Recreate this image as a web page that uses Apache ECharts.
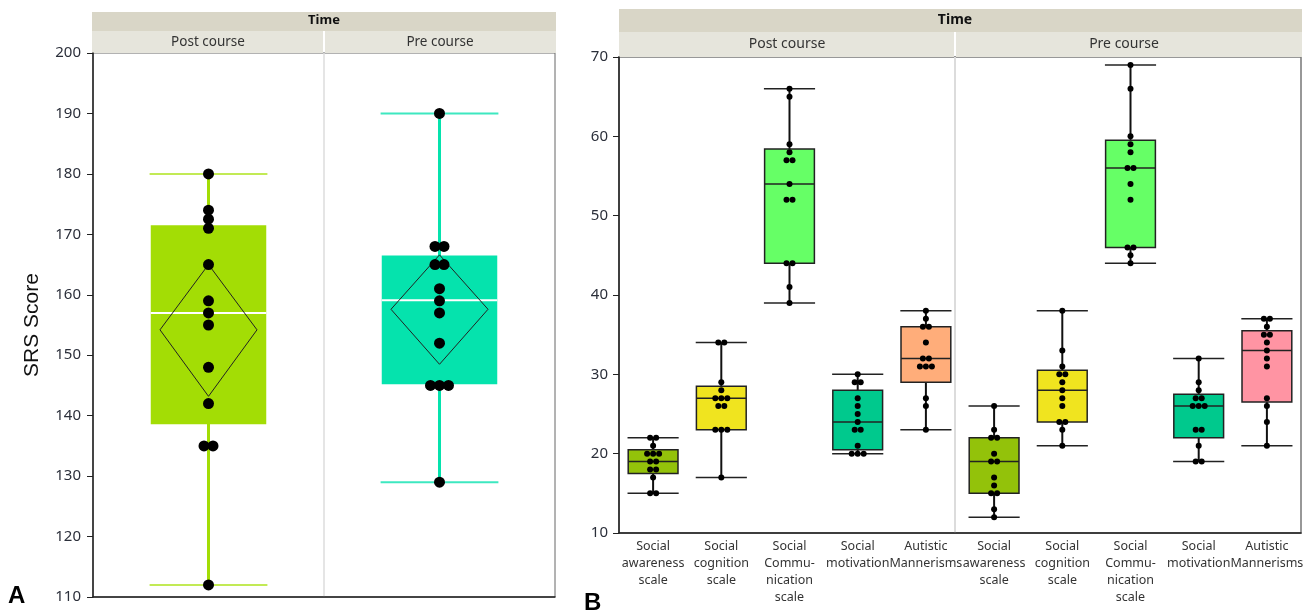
<!DOCTYPE html>
<html>
<head>
<meta charset="utf-8">
<script src="https://cdn.jsdelivr.net/npm/echarts@6/dist/echarts.min.js"></script>
<style>
  html, body { margin: 0; padding: 0; background: #fff; }
  #chart { width: 1313px; height: 613px; }
</style>
</head>
<body>
<div id="chart"></div>
<script>
// ---- panel A : total SRS score ----
var aCats = ['Post course', 'Pre course'];
var aPost = [180, 174, 172.5, 171, 165, 159, 157, 155, 148, 142, 135, 135, 112];
var aPre = [190, 168, 168, 165, 165, 161, 159, 157, 152, 145, 145, 145, 129];
// whisker low, q1, median, q3, whisker high
var aBox = [[112, 138.6, 157, 171.5, 180], [129, 145.2, 159.1, 166.5, 190]];
// mean, lower, upper (means diamond)
var aMean = [[154.2, 143.2, 165.0], [157.6, 148.5, 166.6]];
var aColors = ['#a3dd05', '#05e3ad'];
var aCapColors = ['#c2ea55', '#3de8c0'];

// ---- panel B : subscales ----
var bNames = ['Social\nawareness\nscale', 'Social\ncognition\nscale', 'Social\nCommu-\nnication\nscale', 'Social\nmotivation', 'Autistic\nMannerisms'];
var bPost = [
  [22, 22, 21, 20, 20, 20, 19, 19, 18, 18, 17, 15, 15],
  [34, 34, 29, 28, 27, 27, 27, 26, 26, 23, 23, 23, 17],
  [66, 65, 59, 58, 57, 57, 54, 52, 52, 44, 44, 41, 39],
  [30, 29, 29, 27, 26, 25, 24, 23, 23, 21, 20, 20, 20],
  [38, 37, 36, 36, 34, 32, 32, 31, 31, 31, 27, 26, 23]
];
var bPre = [
  [26, 23, 22, 22, 20, 19, 19, 17, 16, 15, 15, 13, 12],
  [38, 33, 31, 30, 30, 29, 28, 27, 26, 24, 24, 23, 21],
  [69, 66, 60, 59, 58, 56, 56, 54, 52, 46, 46, 45, 44],
  [32, 29, 28, 27, 27, 26, 26, 26, 23, 23, 21, 19, 19],
  [37, 37, 36, 35, 35, 34, 33, 32, 31, 27, 26, 24, 21]
];
var bBoxPost = [[15, 17.5, 19, 20.5, 22], [17, 23, 27, 28.5, 34], [39, 44, 54, 58.4, 66], [20, 20.5, 24, 28, 30], [23, 29, 32, 36, 38]];
var bBoxPre = [[12, 15, 19, 22, 26], [21, 24, 28, 30.5, 38], [44, 46, 56, 59.5, 69], [19, 22, 26, 27.5, 32], [21, 26.5, 33, 35.5, 37]];
var bColorsPost = ['#93c20a', '#f0e41f', '#66ff66', '#00c98d', '#ffad7a'];
var bColorsPre = ['#93c20a', '#f0e41f', '#66ff66', '#00c98d', '#ff94a3'];

var FONT = 'Noto Sans';

// dots with equal values are put side by side
function dotData(groups, spacing) {
  var out = [];
  groups.forEach(function (vals, ci) {
    var counts = {}, seen = {};
    vals.forEach(function (v) { counts[v] = (counts[v] || 0) + 1; });
    vals.forEach(function (v) {
      var k = seen[v] || 0;
      seen[v] = k + 1;
      var dx = (k - (counts[v] - 1) / 2) * spacing;
      out.push({ value: [ci, v], symbolOffset: [dx, 0] });
    });
  });
  return out;
}

function boxData(boxes, means) {
  return boxes.map(function (b, i) {
    var row = [i].concat(b);
    if (means) row = row.concat(means[i]);
    return row;
  });
}

function boxRender(cfg) {
  return function (params, api) {
    var i = api.value(0);
    var band = api.size([1, 0])[0];
    var cx = api.coord([i, 0])[0];
    var yLo = api.coord([i, api.value(1)])[1];
    var yQ1 = api.coord([i, api.value(2)])[1];
    var yMed = api.coord([i, api.value(3)])[1];
    var yQ3 = api.coord([i, api.value(4)])[1];
    var yHi = api.coord([i, api.value(5)])[1];
    var w = band * cfg.boxFrac;
    var cw = band * cfg.capFrac;
    var fill = cfg.colors[params.dataIndex];
    var capColor = cfg.capColors ? cfg.capColors[params.dataIndex] : cfg.stroke;
    var wColor = cfg.whiskerColor || fill;
    var kids = [
      { type: 'line', shape: { x1: cx, y1: yHi, x2: cx, y2: yLo }, style: { stroke: wColor, lineWidth: cfg.whiskerWidth } },
      { type: 'line', shape: { x1: cx - cw / 2, y1: yHi, x2: cx + cw / 2, y2: yHi }, style: { stroke: capColor, lineWidth: cfg.capWidth } },
      { type: 'line', shape: { x1: cx - cw / 2, y1: yLo, x2: cx + cw / 2, y2: yLo }, style: { stroke: capColor, lineWidth: cfg.capWidth } },
      { type: 'rect', shape: { x: cx - w / 2, y: yQ3, width: w, height: yQ1 - yQ3 },
        style: { fill: fill, stroke: cfg.boxStroke || null, lineWidth: cfg.boxStrokeWidth || 0 } },
      { type: 'line', shape: { x1: cx - w / 2, y1: yMed, x2: cx + w / 2, y2: yMed }, style: { stroke: cfg.medianColor, lineWidth: cfg.medianWidth } }
    ];
    if (cfg.diamondFrac) {
      var yM = api.coord([i, api.value(6)])[1];
      var yL = api.coord([i, api.value(7)])[1];
      var yU = api.coord([i, api.value(8)])[1];
      var dw = band * cfg.diamondFrac / 2;
      kids.push({ type: 'polygon', shape: { points: [[cx, yU], [cx + dw, yM], [cx, yL], [cx - dw, yM]] },
        style: { fill: null, stroke: '#222', lineWidth: 1 } });
    }
    return { type: 'group', children: kids };
  };
}

var bCats = bNames.concat(bNames);

var chart = echarts.init(document.getElementById('chart'));

var option = {
  animation: false,
  textStyle: { fontFamily: FONT },
  grid: [
    { left: 93, top: 53, width: 462, height: 544, show: true, borderColor: '#666', borderWidth: 1 },
    { left: 619, top: 57, width: 682, height: 476, show: true, borderColor: '#777', borderWidth: 1.5 }
  ],
  xAxis: [
    { type: 'category', gridIndex: 0, data: aCats,
      axisLine: { lineStyle: { color: '#222', width: 1.5 } },
      axisTick: { show: false }, axisLabel: { show: false }, splitLine: { show: false } },
    { type: 'category', gridIndex: 1, data: bCats,
      axisLine: { lineStyle: { color: '#222', width: 1.5 } },
      axisTick: { show: false },
      axisLabel: { interval: 0, fontSize: 12.5, lineHeight: 17, color: '#333', margin: 5, fontFamily: FONT } }
  ],
  yAxis: [
    { type: 'value', gridIndex: 0, min: 110, max: 200, interval: 10,
      name: 'SRS Score', nameLocation: 'middle', nameGap: 50, nameRotate: 90,
      nameTextStyle: { fontFamily: 'Liberation Sans', fontSize: 21, color: '#111' },
      axisLine: { show: true, lineStyle: { color: '#222', width: 1.5 } },
      axisTick: { show: true, length: 6, lineStyle: { color: '#222' } },
      axisLabel: { fontSize: 15, color: '#2b2f3a', margin: 12 },
      splitLine: { show: false } },
    { type: 'value', gridIndex: 1, min: 10, max: 70, interval: 10,
      axisLine: { show: true, lineStyle: { color: '#222', width: 1.5 } },
      axisTick: { show: true, length: 6, lineStyle: { color: '#222' } },
      axisLabel: { fontSize: 15, color: '#2b2f3a', margin: 11 },
      splitLine: { show: false } }
  ],
  graphic: [
    // panel A facet headers
    { type: 'rect', shape: { x: 92, y: 12, width: 464, height: 19 }, style: { fill: '#d9d6c7' } },
    { type: 'rect', shape: { x: 92, y: 31, width: 231, height: 22 }, style: { fill: '#e6e5dc' } },
    { type: 'rect', shape: { x: 325, y: 31, width: 231, height: 22 }, style: { fill: '#e6e5dc' } },
    { type: 'text', x: 324, y: 20, style: { text: 'Time', font: 'bold 13px "Noto Sans"', fill: '#111', align: 'center', verticalAlign: 'middle' } },
    { type: 'text', x: 208, y: 42, style: { text: 'Post course', font: '13.5px "Noto Sans"', fill: '#333', align: 'center', verticalAlign: 'middle' } },
    { type: 'text', x: 440, y: 42, style: { text: 'Pre course', font: '13.5px "Noto Sans"', fill: '#333', align: 'center', verticalAlign: 'middle' } },
    { type: 'line', shape: { x1: 324, y1: 53, x2: 324, y2: 597 }, style: { stroke: '#dcdcdc', lineWidth: 1.5 } },
    // panel B facet headers
    { type: 'rect', shape: { x: 619, y: 9, width: 683, height: 23 }, style: { fill: '#d9d6c7' } },
    { type: 'rect', shape: { x: 619, y: 32, width: 335, height: 25 }, style: { fill: '#e6e5dc' } },
    { type: 'rect', shape: { x: 956, y: 32, width: 346, height: 25 }, style: { fill: '#e6e5dc' } },
    { type: 'text', x: 955, y: 20.5, style: { text: 'Time', font: 'bold 14px "Noto Sans"', fill: '#111', align: 'center', verticalAlign: 'middle' } },
    { type: 'text', x: 787, y: 44.5, style: { text: 'Post course', font: '14px "Noto Sans"', fill: '#333', align: 'center', verticalAlign: 'middle' } },
    { type: 'text', x: 1124, y: 44.5, style: { text: 'Pre course', font: '14px "Noto Sans"', fill: '#333', align: 'center', verticalAlign: 'middle' } },
    { type: 'line', shape: { x1: 955, y1: 57, x2: 955, y2: 533 }, style: { stroke: '#dcdcdc', lineWidth: 2 } },
    // panel letters
    { type: 'text', x: 8, y: 596, style: { text: 'A', font: 'bold 24px "Liberation Sans"', fill: '#000', verticalAlign: 'middle' } },
    { type: 'text', x: 584, y: 603, style: { text: 'B', font: 'bold 24px "Liberation Sans"', fill: '#000', verticalAlign: 'middle' } }
  ],
  series: [
    { type: 'custom', xAxisIndex: 0, yAxisIndex: 0, silent: true, z: 2,
      renderItem: boxRender({ boxFrac: 0.5, capFrac: 0.51, colors: aColors, capColors: aCapColors,
        whiskerWidth: 3, capWidth: 2, medianColor: '#fff', medianWidth: 2, diamondFrac: 0.42 }),
      data: boxData(aBox, aMean) },
    { type: 'scatter', xAxisIndex: 0, yAxisIndex: 0, silent: true, z: 3,
      symbolSize: 11, itemStyle: { color: '#000', opacity: 1 },
      data: dotData([aPost, aPre], 9) },
    { type: 'custom', xAxisIndex: 1, yAxisIndex: 1, silent: true, z: 2,
      renderItem: boxRender({ boxFrac: 0.73, capFrac: 0.75, colors: bColorsPost.concat(bColorsPre),
        whiskerColor: '#111', stroke: '#222', whiskerWidth: 2, capWidth: 1.5,
        boxStroke: '#222', boxStrokeWidth: 1.5, medianColor: '#222', medianWidth: 1.5 }),
      data: boxData(bBoxPost.concat(bBoxPre)) },
    { type: 'scatter', xAxisIndex: 1, yAxisIndex: 1, silent: true, z: 3,
      symbolSize: 6, itemStyle: { color: '#000', opacity: 1 },
      data: dotData(bPost.concat(bPre), 6) }
  ]
};

chart.setOption(option);
</script>
</body>
</html>
